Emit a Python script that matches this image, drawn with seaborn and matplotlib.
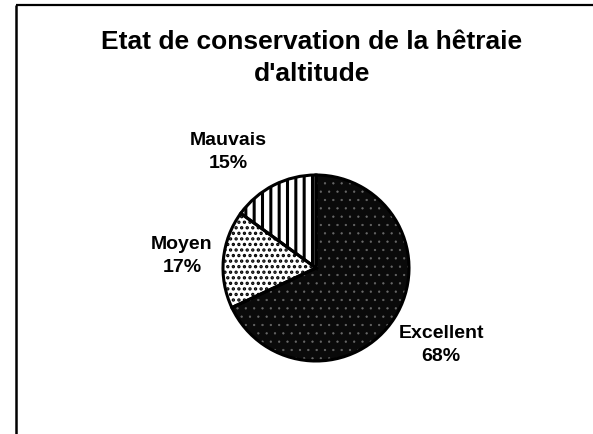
import matplotlib
matplotlib.use("Agg")
import matplotlib.pyplot as plt
import seaborn as sns

sns.set_theme(style="white")
plt.rcParams["font.family"] = ["Liberation Sans", "DejaVu Sans"]
plt.rcParams["hatch.linewidth"] = 2.0

# Conservation state of the high-altitude beech forest
categories = ["Excellent", "Moyen", "Mauvais"]
shares = [68, 17, 15]
title = "Etat de conservation de la hêtraie\nd'altitude"

W, H = 593, 434
fig = plt.figure(figsize=(W / 100, H / 100), dpi=100)
ax = fig.add_axes([0, 0, 1, 1])
ax.set_xlim(0, W)
ax.set_ylim(0, H)
ax.set_aspect("equal")
ax.axis("off")

center = (316, H - 268)
radius = 93

faces = ["#0a0a0a", "white", "white"]
hatches = ["..", "...", "||"]
hatch_cols = ["#6a6a6a", "black", "black"]
hatch_lws = [0.4, 1.6, 2.2]

# textured fills first (hatch takes the edge colour), then a crisp black outline
wedges, _ = ax.pie(shares, startangle=90, counterclock=False,
                   center=center, radius=radius, frame=True,
                   wedgeprops=dict(linewidth=0))
for w, fc, hc, hh, hl in zip(wedges, faces, hatch_cols, hatches, hatch_lws):
    w.set_facecolor(fc)
    w.set_edgecolor(hc)
    w.set_hatch(hh)
    w.set_linewidth(0)
    if hasattr(w, "set_hatch_linewidth"):
        w.set_hatch_linewidth(hl)
outline, _ = ax.pie(shares, startangle=90, counterclock=False,
                    center=center, radius=radius, frame=True,
                    wedgeprops=dict(fill=False, edgecolor="black", linewidth=2.2))
ax.set_xlim(0, W)
ax.set_ylim(0, H)
ax.axis("off")

label_pos = {"Excellent": (441, 345), "Moyen": (182, 256), "Mauvais": (228, 152)}
for cat, val in zip(categories, shares):
    x, y = label_pos[cat]
    ax.text(x, H - y, f"{cat}\n{val}%", ha="center", va="center",
            fontsize=14, fontweight="bold", color="black", linespacing=1.45)

ax.text(312, H - 58, title, ha="center", va="center", fontsize=19,
        fontweight="bold", color="black", linespacing=1.4)

# frame: top and left edges
ax.plot([16, W], [H - 4.5, H - 4.5], color="black", linewidth=1.6, solid_capstyle="butt")
ax.plot([16, 16], [H - 4.5, 0], color="black", linewidth=1.8, solid_capstyle="butt")

fig.savefig("out.png", dpi=100, facecolor="white")
